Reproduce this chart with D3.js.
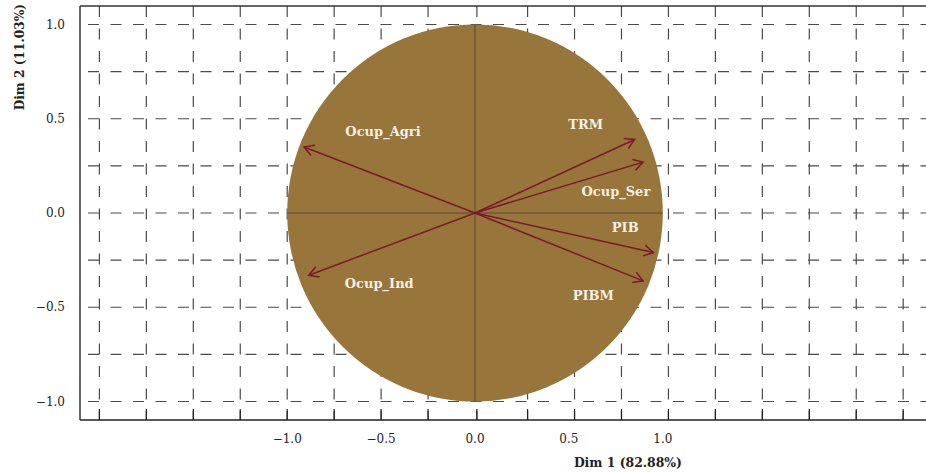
<!DOCTYPE html>
<html><head><meta charset="utf-8">
<script src="https://cdn.jsdelivr.net/npm/d3@7"></script>
<style>body{margin:0;background:#fff}svg{display:block}</style>
</head><body>
<svg id="c" width="926" height="472"></svg>
<script>
// Variables and their coordinates on Dim 1 / Dim 2
const variables = ["TRM", "Ocup_Ser", "PIB", "PIBM", "Ocup_Agri", "Ocup_Ind"];
const dim1 = [0.85, 0.895, 0.95, 0.895, -0.91, -0.885];
const dim2 = [0.39, 0.27, -0.21, -0.36, 0.35, -0.33];
// label anchor positions (data units)
const labelDim1 = [0.59, 0.75, 0.80, 0.63, -0.49, -0.51];
const labelDim2 = [0.47, 0.115, -0.075, -0.44, 0.435, -0.375];
const xTickValues = [-1, -0.5, 0, 0.5, 1];
const xTickLabels = ["−1.0", "−0.5", "0.0", "0.5", "1.0"];
const yTickValues = [1, 0.5, 0, -0.5, -1];
const yTickLabels = ["1.0", "0.5", "0.0", "−0.5", "−1.0"];
const xGrid = [-2, -1.75, -1.5, -1.25, -1, -0.75, -0.5, -0.25, 0.01, 0.28, 0.53, 0.78, 1.03, 1.28, 1.53, 1.78, 2.03, 2.28];
const yGrid = [-1, -0.75, -0.5, -0.25, 0, 0.25, 0.5, 0.75, 1];
const xTitle = "Dim 1 (82.88%)";
const yTitle = "Dim 2 (11.03%)";

(function () {
const svg = d3.select("#c");
const pLeft = 80, pTop = 6, pBottom = 420, pRight = 926;
const x = d3.scaleLinear().domain([0, 1]).range([475, 662.8]);
const y = d3.scaleLinear().domain([0, 1]).range([213, 24.5]);
const serif = "'DejaVu Serif', 'Liberation Serif', serif";
const gridCol = "#4a4a4a";

// grid
const g = svg.append("g");
g.selectAll("line.v").data(xGrid).join("line").attr("class", "v")
  .attr("x1", d => x(d)).attr("x2", d => x(d))
  .attr("y1", pTop).attr("y2", pBottom)
  .attr("stroke", gridCol).attr("stroke-width", 1.2)
  .attr("stroke-dasharray", "11,11.5");
g.selectAll("line.h").data(yGrid).join("line").attr("class", "h")
  .attr("x1", pLeft + 8).attr("x2", pRight)
  .attr("y1", d => y(d)).attr("y2", d => y(d))
  .attr("stroke", gridCol).attr("stroke-width", 1.2)
  .attr("stroke-dasharray", "11,11.5");
// ticks at bottom
g.selectAll("line.bt").data(xGrid).join("line").attr("class", "bt")
  .attr("x1", d => x(d)).attr("x2", d => x(d))
  .attr("y1", pBottom - 11).attr("y2", pBottom)
  .attr("stroke", "#222").attr("stroke-width", 1.2);

// frame
svg.append("line").attr("x1", pLeft).attr("x2", pRight).attr("y1", pTop).attr("y2", pTop).attr("stroke", "#333").attr("stroke-width", 1.5);
svg.append("line").attr("x1", pLeft).attr("x2", pRight).attr("y1", pBottom).attr("y2", pBottom).attr("stroke", "#222").attr("stroke-width", 1.5);
svg.append("line").attr("x1", pLeft).attr("x2", pLeft).attr("y1", pTop).attr("y2", pBottom).attr("stroke", "#333").attr("stroke-width", 1.5);

// circle
svg.append("ellipse")
  .attr("cx", x(0)).attr("cy", y(0))
  .attr("rx", x(1) - x(0)).attr("ry", y(0) - y(1))
  .attr("fill", "#98753a");
svg.append("line").attr("x1", x(-1)).attr("x2", x(1)).attr("y1", y(0)).attr("y2", y(0)).attr("stroke", "#5a4a38").attr("stroke-width", 1);
svg.append("line").attr("x1", x(0)).attr("x2", x(0)).attr("y1", y(1)).attr("y2", y(-1)).attr("stroke", "#5a4a38").attr("stroke-width", 1);

// arrows
const arrowCol = "#7a1a2c";
const ag = svg.append("g");
variables.forEach((v, i) => {
  const x0 = x(0), y0 = y(0), x1 = x(dim1[i]), y1 = y(dim2[i]);
  ag.append("line").attr("x1", x0).attr("y1", y0).attr("x2", x1).attr("y2", y1)
    .attr("stroke", arrowCol).attr("stroke-width", 1.5);
  const ang = Math.atan2(y1 - y0, x1 - x0);
  const L = 11, a = Math.PI / 6;
  const p1 = [x1 - L * Math.cos(ang - a), y1 - L * Math.sin(ang - a)];
  const p2 = [x1 - L * Math.cos(ang + a), y1 - L * Math.sin(ang + a)];
  ag.append("path").attr("d", `M${p1[0]},${p1[1]}L${x1},${y1}L${p2[0]},${p2[1]}`)
    .attr("fill", "none").attr("stroke", arrowCol).attr("stroke-width", 1.5)
    .attr("stroke-linejoin", "miter");
});
// labels
svg.append("g").selectAll("text").data(variables).join("text")
  .attr("x", (d, i) => x(labelDim1[i])).attr("y", (d, i) => y(labelDim2[i]))
  .attr("text-anchor", "middle").attr("dominant-baseline", "central")
  .attr("font-family", serif).attr("font-weight", "bold").attr("font-size", 13)
  .attr("fill", "#f4f0e6").text(d => d);

// tick labels
svg.append("g").selectAll("text").data(xTickValues).join("text")
  .attr("x", d => x(d)).attr("y", 443)
  .attr("text-anchor", "middle").attr("font-family", serif).attr("font-size", 12)
  .attr("fill", "#222").text((d, i) => xTickLabels[i]);
svg.append("g").selectAll("text").data(yTickValues).join("text")
  .attr("x", 65).attr("y", d => y(d) + 4)
  .attr("text-anchor", "end").attr("font-family", serif).attr("font-size", 12)
  .attr("fill", "#222").text((d, i) => yTickLabels[i]);

// titles
svg.append("text").attr("x", 682).attr("y", 467).attr("text-anchor", "end")
  .attr("font-family", serif).attr("font-weight", "bold").attr("font-size", 12.4)
  .attr("fill", "#222").text(xTitle);
svg.append("text").attr("transform", "translate(24,4) rotate(-90)")
  .attr("text-anchor", "end")
  .attr("font-family", serif).attr("font-weight", "bold").attr("font-size", 12.2)
  .attr("fill", "#222").text(yTitle);
})();
</script>
</body></html>
